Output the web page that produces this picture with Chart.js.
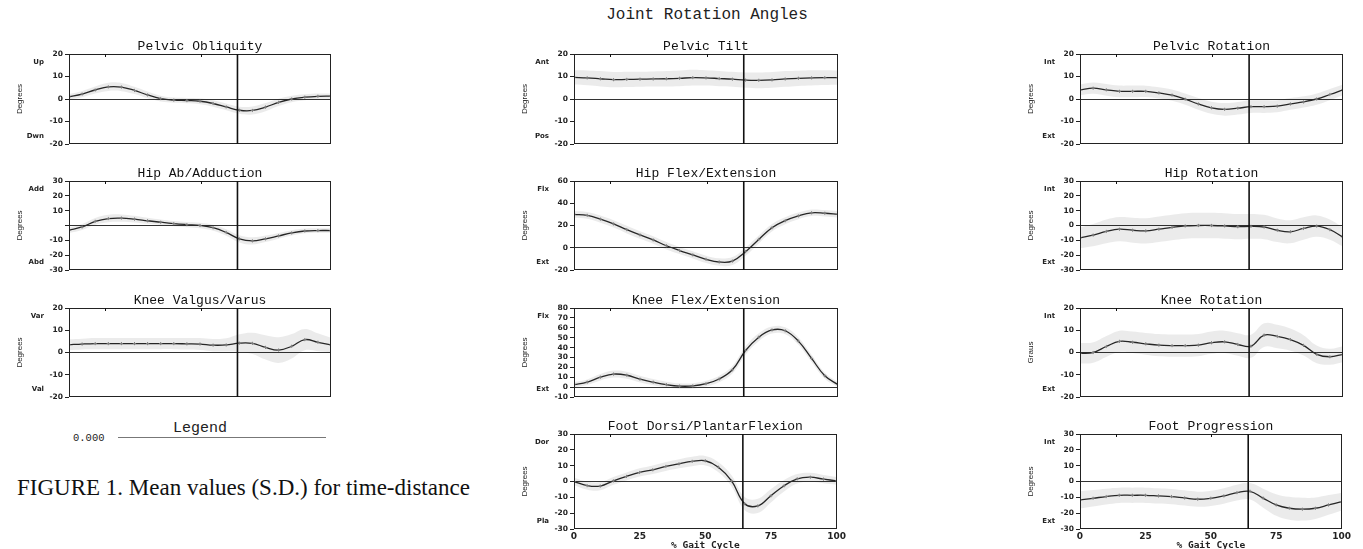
<!DOCTYPE html>
<html>
<head>
<meta charset="utf-8">
<title>Joint Rotation Angles</title>
<script src="https://cdn.jsdelivr.net/npm/chart.js@4.4.1/dist/chart.umd.min.js"></script>
<style>
  body { margin: 0; width: 1363px; height: 549px; background: #fff; position: relative; overflow: hidden; }
  canvas { position: absolute; }
  .txt { position: absolute; white-space: nowrap; color: #222; }
  #main-title { left: 557px; width: 300px; top: 7px; text-align: center; font: 16px/16px "Liberation Mono", monospace; }
  #legend-title { left: 100px; width: 200px; top: 421px; text-align: center; font: 15px/15px "Liberation Mono", monospace; }
  #legend-value { left: 73px; top: 432px; font: 10.5px/12px "Liberation Mono", monospace; }
  #legend-line { position: absolute; left: 118px; top: 437px; width: 208px; border-top: 1.5px solid #777; }
  #caption { left: 17px; top: 476px; font: 23px/24px "Liberation Serif", "Times New Roman", serif; color: #111; }
</style>
</head>
<body>
<div class="txt" id="main-title">Joint Rotation Angles</div>
<div class="txt" id="legend-title">Legend</div>
<div class="txt" id="legend-value">0.000</div>
<div id="legend-line"></div>
<div class="txt" id="caption">FIGURE 1. Mean values (S.D.) for time-distance</div>

<script>
// % gait cycle sample points and tick labels
const gaitPct = [0, 5, 10, 15, 20, 25, 30, 35, 40, 45, 50, 55, 60, 65, 70, 75, 80, 85, 90, 95, 100];
const xTicks = [0, 25, 50, 75, 100];
const gaitEvents = [13.7, 50.2];   // small marks at top of each plot
const toeOff = [64.3];             // vertical line

// mean curves (degrees) and standard deviations, one value per gaitPct
const pelvicObliquity = [1.0, 2.2, 4.0, 5.4, 5.3, 3.8, 1.8, 0.2, -0.5, -0.7, -1.0, -2.0, -3.5, -5.0, -5.1, -3.6, -1.5, 0.0, 0.8, 1.2, 1.3];
const pelvicObliquitySd = [1.2, 1.4, 1.6, 1.8, 1.8, 1.6, 1.5, 1.3, 1.2, 1.2, 1.3, 1.4, 1.5, 1.6, 1.8, 1.8, 1.6, 1.4, 1.3, 1.2, 1.2];

const hipAbAdduction = [-3.2, -1.0, 2.8, 4.7, 5.0, 4.3, 3.2, 2.2, 1.3, 0.6, 0.0, -1.5, -4.7, -9.0, -10.4, -9.0, -7.0, -5.0, -3.7, -3.4, -3.4];
const hipAbAdductionSd = [1.8, 2.0, 2.3, 2.5, 2.5, 2.3, 2.1, 1.9, 1.8, 1.8, 1.9, 2.0, 2.2, 2.4, 2.4, 2.2, 2.0, 1.8, 1.6, 1.5, 1.5];

const kneeValgusVarus = [3.5, 3.8, 4.0, 4.0, 4.0, 4.0, 4.0, 4.0, 4.0, 3.9, 3.8, 3.3, 3.4, 4.2, 4.1, 2.3, 1.1, 2.8, 5.8, 4.6, 3.4];
const kneeValgusVarusSd = [2.4, 2.4, 2.5, 2.5, 2.5, 2.5, 2.5, 2.5, 2.5, 2.6, 2.7, 2.8, 3.0, 4.0, 4.8, 5.5, 5.8, 5.5, 4.8, 4.0, 3.2];

const pelvicTilt = [9.6, 9.4, 9.0, 8.6, 8.7, 8.8, 8.9, 9.0, 9.2, 9.5, 9.4, 9.1, 8.8, 8.4, 8.3, 8.5, 8.9, 9.2, 9.4, 9.5, 9.5];
const pelvicTiltSd = [3.2, 3.3, 3.4, 3.4, 3.4, 3.3, 3.3, 3.4, 3.5, 3.5, 3.4, 3.4, 3.3, 3.4, 3.5, 3.5, 3.5, 3.4, 3.4, 3.3, 3.2];

const hipFlexExt = [30.0, 29.1, 25.7, 21.4, 16.3, 11.5, 7.0, 1.8, -2.5, -6.4, -10.4, -12.8, -12.0, -3.5, 7.5, 18.0, 24.3, 28.6, 31.4, 31.0, 30.0];
const hipFlexExtSd = [3.0, 3.1, 3.2, 3.3, 3.4, 3.4, 3.4, 3.3, 3.2, 3.2, 3.3, 3.4, 3.6, 3.8, 3.6, 3.4, 3.2, 3.0, 2.9, 2.9, 3.0];

const kneeFlexExt = [2.5, 5.0, 10.0, 13.2, 12.0, 8.0, 5.0, 2.5, 1.0, 1.2, 3.5, 8.2, 17.5, 37.0, 50.5, 57.8, 57.0, 46.5, 29.0, 11.5, 2.5];
const kneeFlexExtSd = [2.6, 2.8, 3.2, 3.5, 3.6, 3.4, 3.2, 3.0, 2.8, 2.8, 3.0, 3.3, 3.8, 4.2, 4.0, 3.6, 3.5, 3.6, 3.6, 3.0, 2.6];

const footDorsiPlantar = [0.0, -2.6, -2.9, 0.4, 3.2, 5.7, 7.4, 9.5, 11.2, 12.7, 13.1, 9.0, 0.4, -14.0, -15.4, -9.0, -2.7, 1.7, 2.7, 1.5, 0.4];
const footDorsiPlantarSd = [2.4, 2.6, 2.6, 2.5, 2.5, 2.6, 2.7, 2.8, 2.9, 3.0, 3.0, 3.2, 3.6, 4.2, 4.5, 4.2, 3.6, 3.0, 2.8, 2.6, 2.4];

const pelvicRotation = [4.1, 4.8, 4.1, 3.4, 3.4, 3.4, 2.7, 1.7, -0.1, -2.2, -3.9, -4.6, -4.1, -3.4, -3.4, -3.2, -2.2, -1.3, 0.0, 2.0, 4.1];
const pelvicRotationSd = [2.4, 2.5, 2.6, 2.6, 2.6, 2.5, 2.5, 2.5, 2.5, 2.6, 2.7, 2.8, 2.8, 2.8, 2.8, 2.7, 2.6, 2.5, 2.5, 2.5, 2.4];

const hipRotation = [-8.3, -6.5, -4.0, -2.5, -3.2, -3.6, -2.5, -1.3, -0.3, 0.0, 0.0, -0.3, -0.8, -0.6, -1.0, -3.2, -4.2, -2.0, -0.4, -2.8, -7.8];
const hipRotationSd = [7.0, 7.5, 8.0, 8.2, 8.4, 8.5, 8.6, 8.6, 8.6, 8.6, 8.6, 8.6, 8.5, 8.4, 8.2, 8.0, 7.8, 7.6, 7.2, 6.8, 6.4];

const kneeRotation = [-0.4, 0.0, 2.7, 5.0, 4.6, 3.9, 3.3, 3.1, 3.1, 3.3, 4.4, 4.8, 3.6, 2.8, 7.8, 7.2, 5.8, 3.2, -0.8, -1.9, -0.8];
const kneeRotationSd = [4.6, 4.6, 4.7, 4.8, 4.8, 4.9, 5.0, 5.0, 5.0, 5.0, 5.0, 5.0, 5.1, 5.2, 5.3, 5.3, 5.0, 4.6, 4.0, 3.6, 3.6];

const footProgression = [-11.6, -10.6, -9.5, -8.7, -8.7, -8.7, -9.1, -9.5, -10.4, -11.2, -10.6, -9.1, -7.0, -6.2, -10.5, -14.8, -16.9, -17.5, -16.9, -14.8, -12.7];
const footProgressionSd = [5.5, 5.2, 5.0, 4.8, 4.8, 4.8, 4.8, 4.8, 4.8, 4.8, 4.8, 4.9, 5.0, 5.2, 6.0, 6.8, 7.2, 7.2, 6.8, 6.2, 5.6];

// page grid (plot area boxes)
const colLeft = [69, 574, 1080];
const colWidth = [262, 264, 263];
const rowTop = [54, 181, 308, 434];
const rowHeight = [95, 94, 94, 95];

const panels = [
  { col: 0, row: 0, title: "Pelvic Obliquity", mean: pelvicObliquity, sd: pelvicObliquitySd, min: -20, max: 20, step: 10, top: "Up", bottom: "Dwn" },
  { col: 0, row: 1, title: "Hip Ab/Adduction", mean: hipAbAdduction, sd: hipAbAdductionSd, min: -30, max: 30, step: 10, top: "Add", bottom: "Abd", hideZero: true },
  { col: 0, row: 2, title: "Knee Valgus/Varus", mean: kneeValgusVarus, sd: kneeValgusVarusSd, min: -20, max: 20, step: 10, top: "Var", bottom: "Val" },
  { col: 1, row: 0, title: "Pelvic Tilt", mean: pelvicTilt, sd: pelvicTiltSd, min: -20, max: 20, step: 10, top: "Ant", bottom: "Pos" },
  { col: 1, row: 1, title: "Hip Flex/Extension", mean: hipFlexExt, sd: hipFlexExtSd, min: -20, max: 60, step: 20, top: "Flx", bottom: "Ext" },
  { col: 1, row: 2, title: "Knee Flex/Extension", mean: kneeFlexExt, sd: kneeFlexExtSd, min: -10, max: 80, step: 10, top: "Flx", bottom: "Ext" },
  { col: 1, row: 3, title: "Foot Dorsi/PlantarFlexion", mean: footDorsiPlantar, sd: footDorsiPlantarSd, min: -30, max: 30, step: 10, top: "Dor", bottom: "Pla" },
  { col: 2, row: 0, title: "Pelvic Rotation", mean: pelvicRotation, sd: pelvicRotationSd, min: -20, max: 20, step: 10, top: "Int", bottom: "Ext" },
  { col: 2, row: 1, title: "Hip Rotation", mean: hipRotation, sd: hipRotationSd, min: -30, max: 30, step: 10, top: "Int", bottom: "Ext" },
  { col: 2, row: 2, title: "Knee Rotation", mean: kneeRotation, sd: kneeRotationSd, min: -20, max: 20, step: 10, top: "Int", bottom: "Ext", yTitle: "Graus" },
  { col: 2, row: 3, title: "Foot Progression", mean: footProgression, sd: footProgressionSd, min: -30, max: 30, step: 10, top: "Int", bottom: "Ext" },
];

const INK = "#222";

// box around the plot, toe-off line and the small event marks at the top
const gaitMarks = {
  id: "gaitMarks",
  afterDatasetsDraw(chart) {
    const { ctx, chartArea: a, scales: { x } } = chart;
    ctx.save();
    ctx.strokeStyle = INK;
    ctx.lineWidth = 1;
    ctx.strokeRect(Math.round(a.left) + 0.5, Math.round(a.top) + 0.5, Math.round(a.width) - 1, Math.round(a.height) - 1);

    ctx.lineWidth = 1.6;
    ctx.strokeStyle = "#111";
    toeOff.forEach(v => {
      const px = x.getPixelForValue(v);
      ctx.beginPath();
      ctx.moveTo(px, a.top);
      ctx.lineTo(px, a.bottom);
      ctx.stroke();
    });

    ctx.lineWidth = 1;
    gaitEvents.forEach(v => {
      const px = Math.round(x.getPixelForValue(v)) + 0.5;
      ctx.beginPath();
      ctx.moveTo(px, a.top);
      ctx.lineTo(px, a.top + 3);
      ctx.stroke();
    });
    ctx.restore();
  }
};

// "Up" / "Dwn" style labels beside the y axis
const sideLabels = {
  id: "sideLabels",
  afterDraw(chart, args, opts) {
    const { ctx, chartArea: a } = chart;
    ctx.save();
    ctx.font = "bold 7px 'DejaVu Sans', sans-serif";
    ctx.fillStyle = INK;
    ctx.textAlign = "right";
    ctx.textBaseline = "middle";
    if (opts.top) ctx.fillText(opts.top, a.left - 25, a.top + 8);
    if (opts.bottom) ctx.fillText(opts.bottom, a.left - 25, a.bottom - 8);
    ctx.restore();
  }
};

function makePanel(p) {
  const isBottom = p.row === 3;
  const padL = 56, padT = 18, padR = 10, padB = isBottom ? 21 : 5;
  const plotW = colWidth[p.col], plotH = rowHeight[p.row];

  const canvas = document.createElement("canvas");
  canvas.width = padL + plotW + padR;
  canvas.height = padT + plotH + padB;
  canvas.style.left = (colLeft[p.col] - padL) + "px";
  canvas.style.top = (rowTop[p.row] - padT) + "px";
  canvas.style.width = canvas.width + "px";
  canvas.style.height = canvas.height + "px";
  document.body.appendChild(canvas);

  const pts = vals => gaitPct.map((x, i) => ({ x, y: vals[i] }));
  const upper = p.mean.map((v, i) => v + p.sd[i]);
  const lower = p.mean.map((v, i) => v - p.sd[i]);

  new Chart(canvas, {
    type: "line",
    data: {
      datasets: [
        { data: pts(upper), borderWidth: 0, pointRadius: 0, fill: "+1", backgroundColor: "rgba(0,0,0,0.08)", tension: 0.4 },
        { data: pts(lower), borderWidth: 0, pointRadius: 0, fill: false, tension: 0.4 },
        {
          data: pts(p.mean), borderColor: "#2a2a2a", borderWidth: 1.3, fill: false, tension: 0.4,
          pointRadius: 1.6, pointStyle: "cross", pointBorderColor: "#8a8a8a", pointBorderWidth: 1
        }
      ]
    },
    options: {
      responsive: false,
      animation: false,
      devicePixelRatio: 1,
      events: [],
      layout: { padding: { left: 0, top: 0, right: padR, bottom: isBottom ? 0 : padB } },
      plugins: {
        legend: { display: false },
        tooltip: { enabled: false },
        title: {
          display: true,
          text: p.title,
          fullSize: false,
          color: "#111",
          font: { family: "'Liberation Mono', monospace", size: 13, weight: "normal", lineHeight: 1 },
          padding: { top: 4.5, bottom: 0.5 }
        },
        sideLabels: { top: p.top, bottom: p.bottom }
      },
      scales: {
        x: {
          type: "linear",
          min: 0,
          max: 100,
          display: isBottom,
          afterBuildTicks: s => { s.ticks = xTicks.map(v => ({ value: v })); },
          afterFit: s => { s.height = padB; },
          grid: { display: false, drawTicks: false },
          border: { display: false },
          ticks: { padding: 2, maxRotation: 0, autoSkip: false, color: INK, font: { family: "'DejaVu Sans', sans-serif", size: 9, weight: "bold" } },
          title: {
            display: isBottom,
            text: "% Gait Cycle",
            color: INK,
            padding: 0,
            font: { family: "'DejaVu Sans Mono', monospace", size: 9.5, weight: "bold", lineHeight: 1 }
          }
        },
        y: {
          min: p.min,
          max: p.max,
          afterFit: s => { s.width = padL; },
          grid: {
            color: c => (c.tick && c.tick.value === 0 ? "#333" : "rgba(0,0,0,0)"),
            tickColor: INK,
            tickLength: 4,
            lineWidth: 1
          },
          border: { display: false },
          ticks: {
            stepSize: p.step,
            autoSkip: false,
            padding: 2,
            color: INK,
            font: { family: "'DejaVu Sans', sans-serif", size: 7.5, weight: "bold" },
            callback: v => (p.hideZero && v === 0 ? "" : v)
          },
          title: {
            display: true,
            text: p.yTitle || "Degrees",
            color: INK,
            padding: { top: 1.5, bottom: 0 },
            font: { family: "'Liberation Sans', sans-serif", size: 8 }
          }
        }
      }
    },
    plugins: [gaitMarks, sideLabels]
  });
}

panels.forEach(makePanel);
</script>
</body>
</html>
